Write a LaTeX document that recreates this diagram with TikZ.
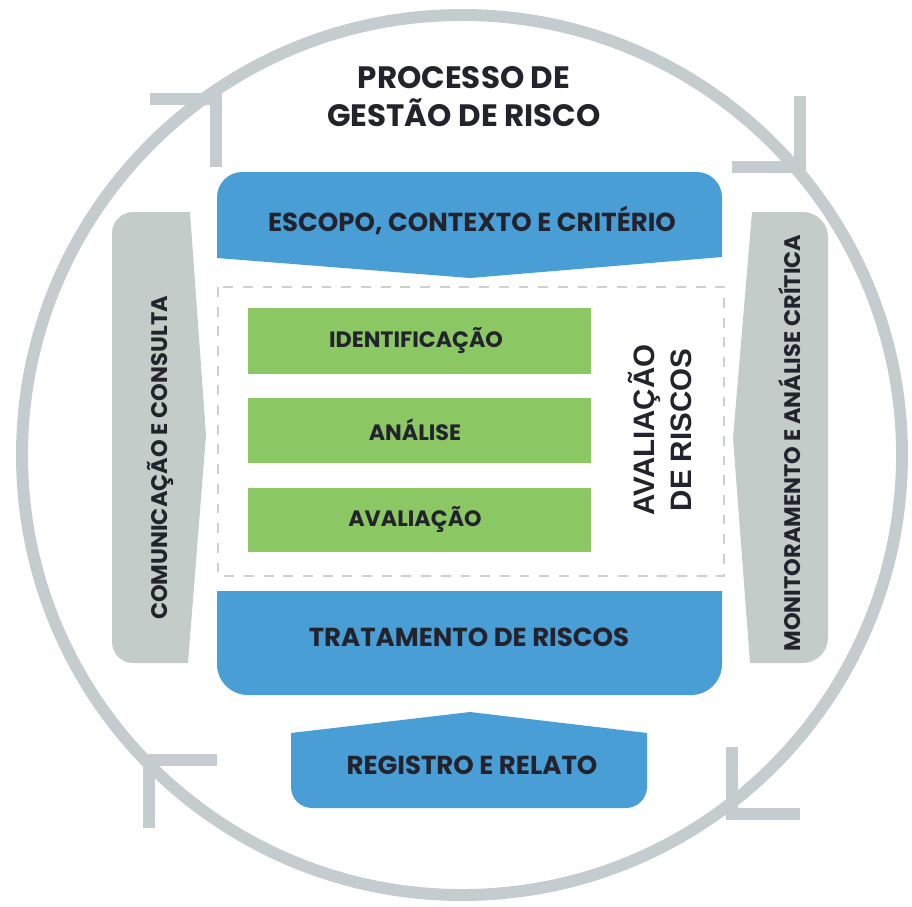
\documentclass[tikz,border=0pt]{standalone}
\usepackage{fontspec}
\setmainfont{Poppins}
\newfontfamily\blockfont{Liberation Sans}
\usetikzlibrary{positioning}
\definecolor{riskblue}{HTML}{4A9ED6}
\definecolor{riskgreen}{HTML}{8BC763}
\definecolor{sidegray}{HTML}{C4CCCA}
\definecolor{ringgray}{HTML}{C5CCCF}
\definecolor{dashgray}{HTML}{CFCFCF}
\definecolor{ink}{HTML}{23232D}

\begin{document}
\begin{tikzpicture}[
    x=0.025cm, y=-0.025cm,
    ring/.style={draw=ringgray, line width=8.5pt},
    ringtip/.style={draw=ringgray, line width=8pt},
    label/.style={text=ink, font=\bfseries\fontsize{18.5}{22}\selectfont},
    steplabel/.style={label, font=\bfseries\fontsize{15.8}{19}\selectfont},
    sidelabel/.style={label, rotate=90, font=\bfseries\fontsize{16}{19}\selectfont},
  ]
  \useasboundingbox (0,0) rectangle (912,906);

  \draw[ring] (462,455) circle [radius=440];
  \draw[ringtip] (150,99) -- (216,99) -- (216,167);
  \draw[ringtip] (800,96) -- (800,167) -- (732,167);
  \draw[ringtip] (732,747) -- (732,814) -- (800,814);
  \draw[ringtip] (217,760) -- (149,760) -- (149,828);

  \node[text=ink, font=\bfseries\fontsize{22}{27}\selectfont, align=center]
    (title) at (464,97) {PROCESSO DE\\GESTÃO DE RISCO};

  \fill[sidegray] (206,435) -- (190,212) [rounded corners=15pt] -- (112,212)
    -- (112,663) [sharp corners] -- (188,663) -- cycle;
  \fill[sidegray] (733,438) -- (752,212) [rounded corners=18pt] -- (828,212)
    -- (828,663) [sharp corners] -- (750,663) -- cycle;
  \node[sidelabel] (comunic) at (160,458) {COMUNICAÇÃO E CONSULTA};
  \node[sidelabel] (monitor) at (790,443) {MONITORAMENTO E ANÁLISE CRÍTICA};

  \fill[riskblue] (217,258) [rounded corners=18pt] -- (217,172) -- (722,172)
    [sharp corners] -- (722,257) -- (470,278) -- cycle;
  \node[label] (escopo) at (472,220) {ESCOPO, CONTEXTO E CRITÉRIO};

  \draw[dashgray, line width=2pt, dash pattern=on 7pt off 7pt] (218,287) rectangle (724,576);
  \fill[riskgreen] (248,308) rectangle (591,374);
  \fill[riskgreen] (248,398) rectangle (591,463);
  \fill[riskgreen] (248,488) rectangle (591,552);
  \node[steplabel] (ident) at (416,341) {IDENTIFICAÇÃO};
  \node[steplabel] (analise) at (415,430) {ANÁLISE};
  \node[steplabel] (avaliacao) at (415,520) {AVALIAÇÃO};
  \node[text=ink, rotate=90, align=center,
    font=\blockfont\bfseries\fontsize{21}{26}\selectfont]
    (avrisco) at (660,430) {AVALIAÇÃO\\DE RISCOS};

  \fill[riskblue] (217,591) -- (722,591) [rounded corners=22pt] -- (722,695)
    -- (217,695) [sharp corners] -- cycle;
  \node[label] (tratamento) at (469,637) {TRATAMENTO DE RISCOS};

  \fill[riskblue] (470,712) -- (647,733) [rounded corners=15pt] -- (647,808)
    -- (291,808) [sharp corners] -- (291,733) -- cycle;
  \node[label] (registro) at (472,765) {REGISTRO E RELATO};
\end{tikzpicture}
\end{document}
